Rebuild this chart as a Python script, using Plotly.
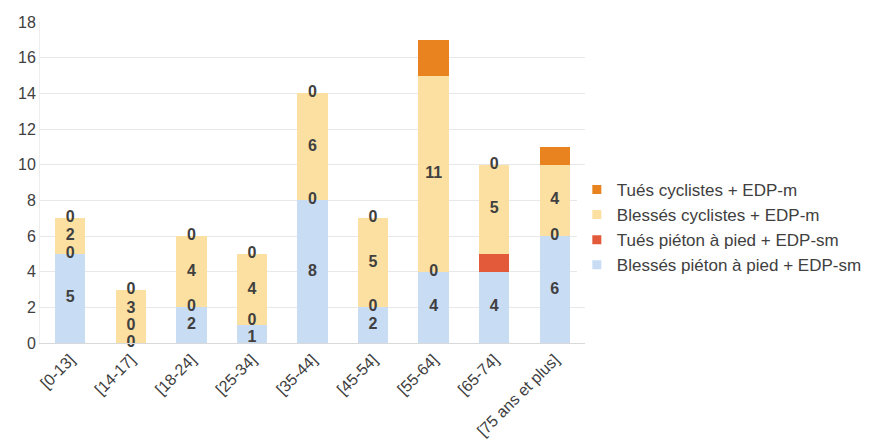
import plotly.graph_objects as go

categories = ["[0-13]", "[14-17]", "[18-24]", "[25-34]", "[35-44]", "[45-54]", "[55-64]", "[65-74]", "[75 ans et plus]"]
blesses_pieton = [5, 0, 2, 1, 8, 2, 4, 4, 6]
tues_pieton = [0, 0, 0, 0, 0, 0, 0, 1, 0]
blesses_cyclistes = [2, 3, 4, 4, 6, 5, 11, 5, 4]
tues_cyclistes = [0, 0, 0, 0, 0, 0, 2, 0, 1]

series = [
    ("Blessés piéton à pied + EDP-sm", blesses_pieton, "#C8DCF4", True),
    ("Tués piéton à pied + EDP-sm", tues_pieton, "#E25A3A", False),
    ("Blessés cyclistes + EDP-m", blesses_cyclistes, "#FCE0A2", True),
    ("Tués cyclistes + EDP-m", tues_cyclistes, "#E8831F", False),
]

FONT = "Liberation Sans, Arial, sans-serif"

fig = go.Figure()
for name, vals, color, _ in series:
    fig.add_trace(go.Bar(x=categories, y=vals, name=name, showlegend=False,
                         marker=dict(color=color, line=dict(width=0))))

# legend entries with small square markers (as in the reference)
for name, vals, color, _ in series:
    fig.add_trace(go.Scatter(x=[None], y=[None], mode="markers", name=name,
                             marker=dict(symbol="square", size=9, color=color)))


def spread(desired, sep=0.95, lo=0.0):
    clusters = []  # each: [list of desired, start]
    for d in desired:
        clusters.append([[d], d])
        while True:
            c = clusters[-1]
            n = len(c[0])
            c[1] = max(lo, sum(di - k * sep for k, di in enumerate(c[0])) / n)
            if len(clusters) > 1:
                p = clusters[-2]
                if p[1] + len(p[0]) * sep > c[1] + 1e-9:
                    p[0].extend(c[0])
                    clusters.pop()
                    continue
            break
    out = []
    for ds, s in clusters:
        out.extend(s + k * sep for k in range(len(ds)))
    return out


# data labels (killed series labelled only when zero, as in the reference)
lx, ly, lt = [], [], []
for i, c in enumerate(categories):
    base = 0
    des, txt = [], []
    for name, vals, color, always in series:
        v = vals[i]
        if always or v == 0:
            des.append(base + v / 2)
            txt.append(str(v))
        base += v
    for y, t in zip(spread(des), txt):
        lx.append(c); ly.append(y); lt.append(t)

fig.add_trace(go.Scatter(x=lx, y=ly, text=lt, mode="text", showlegend=False, hoverinfo="skip",
                         cliponaxis=False,
                         textfont=dict(family=FONT, size=16, color="#404040", weight="bold")))

fig.update_layout(
    barmode="stack",
    bargap=0.5,
    width=871, height=441,
    margin=dict(l=32, r=291, t=14, b=106),
    paper_bgcolor="white", plot_bgcolor="white",
    font=dict(family=FONT, size=13, color="#404040"),
    legend=dict(traceorder="reversed", x=0.985, y=0.36, yanchor="middle", xanchor="left",
                font=dict(size=17, color="#404040"), itemwidth=30, tracegroupgap=0),
    xaxis=dict(tickangle=-45, showline=True, linecolor="#D9D9D9", ticks="", automargin=False,
               tickfont=dict(size=16, color="#404040")),
    yaxis=dict(range=[0, 18], dtick=2, showgrid=True, gridcolor="#E8E8E8", zeroline=False,
               showline=True, linecolor="#EEEEEE", automargin=False,
               tickfont=dict(size=16, color="#404040"), ticks=""),
)

fig.write_html("out.html")
